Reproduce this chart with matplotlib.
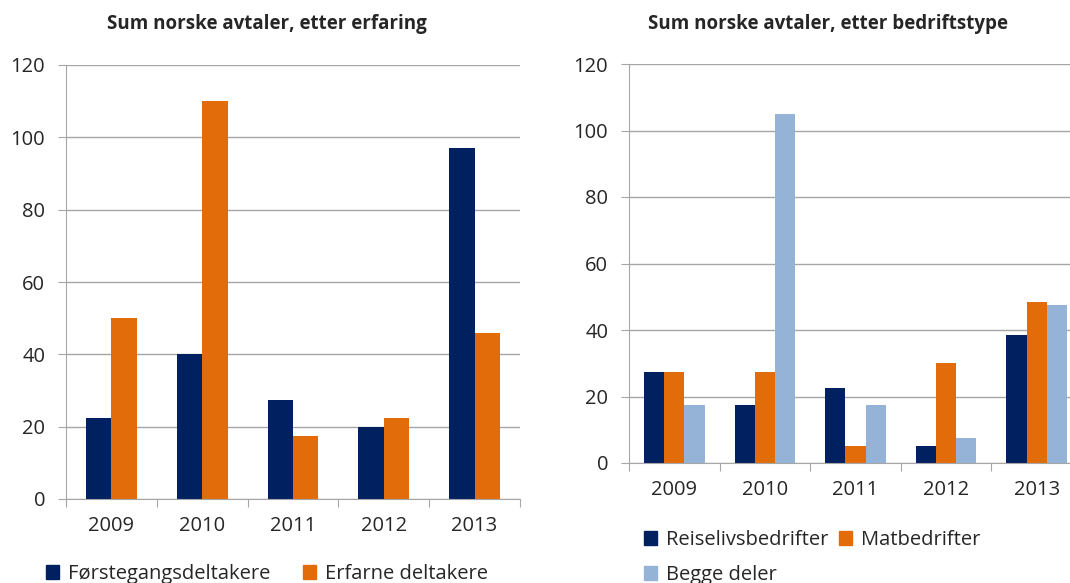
import numpy as np
import matplotlib
matplotlib.use("Agg")
import matplotlib.pyplot as plt
from matplotlib.patches import Patch

## Data

years = ["2009", "2010", "2011", "2012", "2013"]

forstegang = [22.5, 40, 27.5, 20, 97]
erfarne = [50, 110, 17.5, 22.5, 46]

reiseliv = [27.5, 17.5, 22.5, 5, 38.5]
mat = [27.5, 27.5, 5, 30, 48.5]
begge = [17.5, 105, 17.5, 7.5, 47.5]

navy = "#002060"
orange = "#E36C0A"
lightblue = "#95B3D7"
gridc = "#A6A6A6"

plt.rcParams['font.family'] = ['Open Sans', 'DejaVu Sans']

fig = plt.figure(figsize=(10.70, 5.83), dpi=100)
W, H = 1070.0, 583.0


def px_axes(x0, x1, ytop, ybot):
    return fig.add_axes([x0 / W, 1 - ybot / H, (x1 - x0) / W, (ybot - ytop) / H])


def style(ax, nc):
    ax.set_ylim(0, 120)
    ax.set_xlim(0, nc)
    ax.set_yticks(range(0, 121, 20))
    ax.yaxis.grid(True, color=gridc, lw=1)
    ax.set_axisbelow(True)
    for s in ["top", "right"]:
        ax.spines[s].set_visible(False)
    for s in ["left", "bottom"]:
        ax.spines[s].set_color(gridc)
    # category boundary ticks
    ax.set_xticks(np.arange(nc + 1))
    ax.set_xticklabels([])
    ax.set_xticks(np.arange(nc) + 0.5, minor=True)
    ax.set_xticklabels(years, minor=True, fontsize=14.5, color="#262626")
    ax.tick_params(axis="x", which="major", length=6, color=gridc, direction="out")
    ax.tick_params(axis="x", which="minor", length=0, pad=12)
    ax.tick_params(axis="y", length=6, color=gridc, labelsize=14.5, pad=9, labelcolor="#262626")


x = np.arange(len(years)) + 0.5

## Left chart
ax1 = px_axes(66, 520, 65, 499)
bw = 0.28
ax1.bar(x - bw / 2, forstegang, bw, color=navy)
ax1.bar(x + bw / 2, erfarne, bw, color=orange)
style(ax1, len(years))
fig.text(267 / W, 1 - 24 / H, "Sum norske avtaler, etter erfaring", ha="center", va="center",
         fontsize=13.5, fontweight="bold", color="#262626")

h1 = [Patch(color=navy), Patch(color=orange)]
fig.legend(h1, ["Førstegangsdeltakere", "Erfarne deltakere"], loc="center left",
           bbox_to_anchor=(40 / W, 1 - 574 / H), ncol=2, frameon=False, fontsize=14.5,
           handlelength=0.65, handleheight=0.65, handletextpad=0.45, columnspacing=1.6,
           labelcolor="#262626", borderaxespad=0, borderpad=0.3)

## Right chart
ax2 = px_axes(629, 1082, 64, 463)
bw2 = 0.223
ax2.bar(x - bw2, reiseliv, bw2, color=navy)
ax2.bar(x, mat, bw2, color=orange)
ax2.bar(x + bw2, begge, bw2, color=lightblue)
style(ax2, len(years))
fig.text(828 / W, 1 - 24 / H, "Sum norske avtaler, etter bedriftstype", ha="center", va="center",
         fontsize=13.5, fontweight="bold", color="#262626")

h2 = [Patch(color=navy), Patch(color=lightblue), Patch(color=orange)]
fig.legend(h2, ["Reiselivsbedrifter", "Begge deler", "Matbedrifter"], loc="upper left",
           bbox_to_anchor=(638 / W, 1 - 524 / H), ncol=2, frameon=False, fontsize=14.5,
           handlelength=0.65, handleheight=0.65, handletextpad=0.45, columnspacing=0.5,
           labelspacing=0.75, labelcolor="#262626", borderaxespad=0, borderpad=0.3)

fig.savefig("out.png", dpi=100)
